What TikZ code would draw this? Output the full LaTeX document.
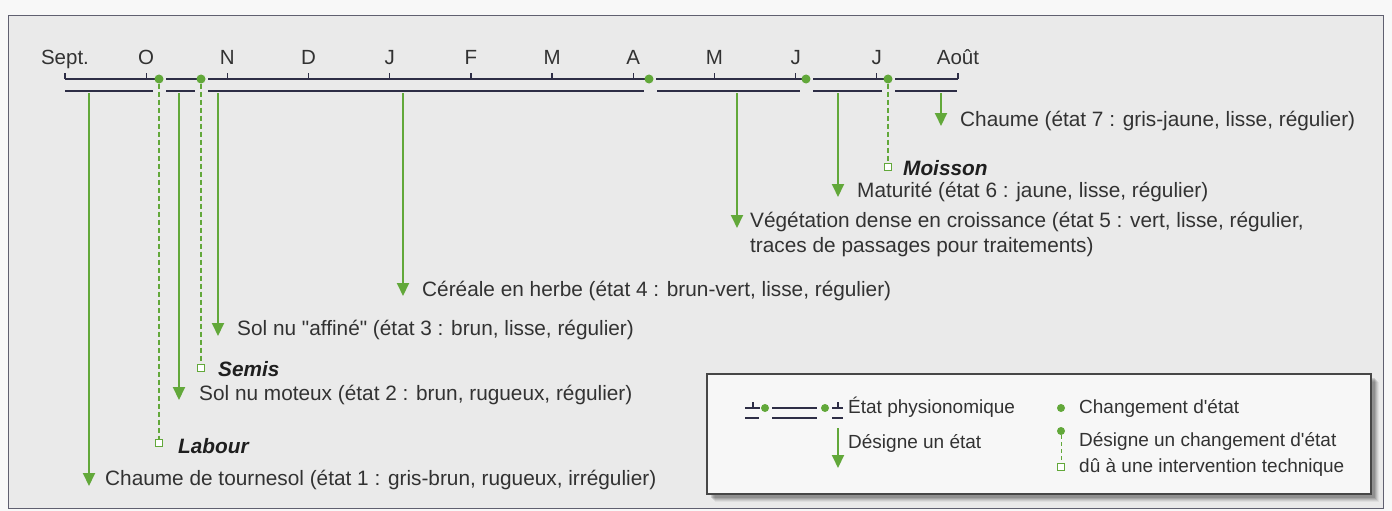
\documentclass[tikz,border=0pt]{standalone}
\usepackage{fontspec}
\setmainfont{Liberation Sans}[Ligatures=TeXOff]
\usetikzlibrary{arrows.meta}

\definecolor{barcol}{RGB}{46,46,70}
\definecolor{leaf}{RGB}{98,168,58}
\definecolor{ink}{RGB}{50,50,50}
\definecolor{paper}{RGB}{248,248,248}
\definecolor{panel}{RGB}{234,234,234}
\definecolor{rim}{RGB}{96,96,112}

\begin{document}
\begin{tikzpicture}[x=1pt,y=-1pt,
  text=ink,
  bar/.style={draw=barcol,line width=2pt},
  tickmark/.style={draw=barcol,line width=1.3pt},
  month/.style={anchor=base,inner sep=0pt,font=\fontsize{20.5}{24}\selectfont},
  dot/.style={circle,fill=leaf,inner sep=0pt,minimum size=9pt},
  smalldot/.style={circle,fill=leaf,inner sep=0pt,minimum size=8pt},
  sq/.style={rectangle,draw=leaf,fill=white,line width=1.1pt,inner sep=0pt,minimum size=7pt},
  stateline/.style={draw=leaf,line width=2pt,-{Triangle[width=12pt,length=13pt]}},
  dashline/.style={draw=leaf,line width=1.2pt,dash pattern=on 5pt off 3pt},
  lbl/.style={anchor=base west,inner sep=0pt,font=\fontsize{20.8}{25}\selectfont},
  leglbl/.style={anchor=base west,inner sep=0pt,font=\fontsize{19}{23}\selectfont},
  act/.style={anchor=base west,inner sep=0pt,text=black!88,
    font=\fontsize{20.8}{25}\selectfont\bfseries\itshape}]

% page and panel
\fill[paper] (0,0) rectangle (1392,511);
\useasboundingbox (0,0) rectangle (1392,511);
\draw[rim,fill=panel,line width=1pt] (8,16) rectangle (1383,508);

% calendar bars
\foreach \a/\b in {65/159,166/201,208/649,656/806,813/888,895/958}
  \draw[bar] (\a,79) -- (\b,79);
\foreach \a/\b in {65/153,166/195,208/644,657/800,813/882,895/957}
  \draw[bar] (\a,91) -- (\b,91);

% month ticks and names
\foreach \i/\m in {0/Sept.,1/O,2/N,3/D,4/J,5/F,6/M,7/A,8/M,9/J,10/J,11/Août}{
  \draw[tickmark] ({65+81.18*\i},79) -- ++(0,-6);
  \node[month] (m\i) at ({65+81.18*\i},65) {\m};
}

% changes of state
\node[dot] (c1) at (159,79) {};
\node[dot] (c2) at (201,79) {};
\node[dot] (c3) at (649,79) {};
\node[dot] (c4) at (806,79) {};
\node[dot] (c5) at (888,79) {};

% technical interventions
\node[sq] (s1) at (159,443) {};
\node[sq] (s2) at (201,368) {};
\node[sq] (s5) at (888,167) {};
\draw[dashline] (c1) -- (s1);
\draw[dashline] (c2) -- (s2);
\draw[dashline] (c5) -- (s5);
\node[act] (labour) at (178,453) {Labour};
\node[act] (semis) at (218,376) {Semis};
\node[act] (moisson) at (903,175) {Moisson};

% states
\coordinate (a1) at (89,93);   \coordinate (t1) at (89,486);
\coordinate (a2) at (179,93);  \coordinate (t2) at (179,400);
\coordinate (a3) at (218,93);  \coordinate (t3) at (218,336);
\coordinate (a4) at (403,93);  \coordinate (t4) at (403,296);
\coordinate (a5) at (737,93);  \coordinate (t5) at (737,228);
\coordinate (a6) at (838,93);  \coordinate (t6) at (838,197);
\coordinate (a7) at (941,93);  \coordinate (t7) at (941,126);
\foreach \k in {1,...,7} \draw[stateline] (a\k) -- (t\k);

\node[lbl] (e1) at (105,485) {Chaume de tournesol (état 1 : gris-brun, rugueux, irrégulier)};
\node[lbl] (e2) at (199,400) {Sol nu moteux (état 2 : brun, rugueux, régulier)};
\node[lbl] (e3) at (237,335) {Sol nu "affiné" (état 3 : brun, lisse, régulier)};
\node[lbl] (e4) at (422,296) {Céréale en herbe (état 4 : brun-vert, lisse, régulier)};
\node[lbl] (e5) at (750,227) {Végétation dense en croissance (état 5 : vert, lisse, régulier,};
\node[lbl] (e5b) at (750,252) {traces de passages pour traitements)};
\node[lbl] (e6) at (857,197) {Maturité (état 6 : jaune, lisse, régulier)};
\node[lbl] (e7) at (960,126) {Chaume (état 7 : gris-jaune, lisse, régulier)};

% legend box with soft shadow
\foreach \o/\op in {8/0.05,7/0.07,6/0.09,5/0.11,4/0.13}
  \fill[black,opacity=\op] (707+\o,374+\o) rectangle (1371+\o,494+\o);
\draw[draw=black!72,fill=white!97!black,line width=1.2pt] (707,374) rectangle (1371,494);

% legend: physiognomic state
\foreach \a/\b in {745/760,772/817,832/843} \draw[bar,line width=1.8pt] (\a,408) -- (\b,408);
\foreach \a/\b in {745/759,772/817,832/843} \draw[bar,line width=1.8pt] (\a,418) -- (\b,418);
\draw[tickmark,line width=1.1pt] (753,408) -- ++(0,-6);
\draw[tickmark,line width=1.1pt] (838,408) -- ++(0,-6);
\node[smalldot] (lgd1) at (765,408) {};
\node[smalldot] (lgd2) at (825,408) {};
\node[leglbl] (lg1) at (848,413) {État physionomique};

% legend: state arrow
\coordinate (la) at (838,428); \coordinate (lt) at (838,468);
\draw[stateline] (la) -- (lt);
\node[leglbl] (lg2) at (848,448) {Désigne un état};

% legend: change of state
\node[smalldot] (lgd3) at (1061,408) {};
\node[leglbl] (lg3) at (1079,413) {Changement d'état};

% legend: change due to a technical intervention
\node[smalldot] (lgd4) at (1061,431) {};
\node[sq] (lgq) at (1061,467) {};
\draw[dashline,line width=1pt,dash pattern=on 4pt off 3pt] (lgd4) -- (lgq);
\node[leglbl] (lg4) at (1079,446) {Désigne un changement d'état};
\node[leglbl] (lg5) at (1079,472) {dû à une intervention technique};
\end{tikzpicture}
\end{document}
